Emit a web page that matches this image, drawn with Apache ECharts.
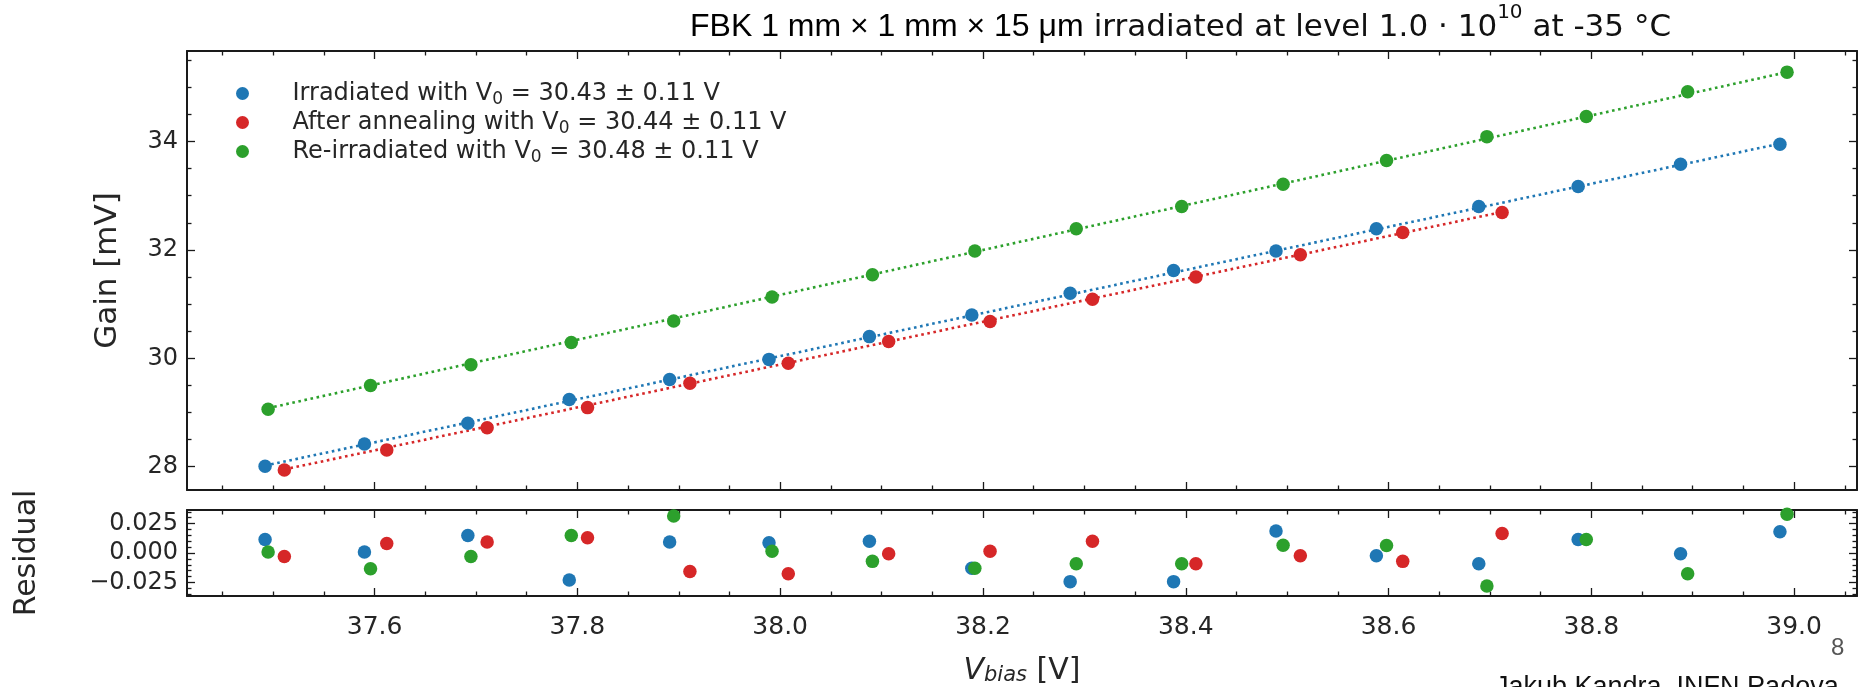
<!DOCTYPE html>
<html><head><meta charset="utf-8">
<script src="https://cdn.jsdelivr.net/npm/echarts@6/dist/echarts.min.js"></script>
<style>html,body{margin:0;padding:0;background:#fff}#c{width:1868px;height:687px}</style>
</head><body><div id="c"></div>
<script>
// ---- data ----
const seriesNames = [
  'Irradiated with V0 = 30.43 \u00b1 0.11 V',
  'After annealing with V0 = 30.44 \u00b1 0.11 V',
  'Re-irradiated with V0 = 30.48 \u00b1 0.11 V'
];
const irradV = [37.492,37.590,37.692,37.792,37.891,37.989,38.088,38.189,38.286,38.388,38.489,38.588,38.689,38.787,38.888,38.986];
const irradGain = [28.01,28.42,28.80,29.24,29.61,29.98,30.40,30.80,31.20,31.62,31.98,32.39,32.80,33.17,33.58,33.95];
const irradRes = [0.0114,0.0009,0.0149,-0.0229,0.0094,0.0086,0.0100,-0.0129,-0.0243,-0.0243,0.0186,-0.0023,-0.0091,0.0114,-0.0006,0.0180];

const annealV = [37.511,37.612,37.711,37.810,37.911,38.008,38.107,38.207,38.308,38.410,38.513,38.614,38.712];
const annealGain = [27.94,28.31,28.72,29.09,29.54,29.91,30.31,30.68,31.09,31.50,31.91,32.32,32.69];
const annealRes = [-0.0029,0.0080,0.0094,0.0129,-0.0157,-0.0177,-0.0006,0.0014,0.0100,-0.0091,-0.0023,-0.0071,0.0166];

const reirrV = [37.495,37.596,37.695,37.794,37.895,37.992,38.091,38.192,38.292,38.396,38.496,38.598,38.697,38.795,38.895,38.993];
const reirrGain = [29.06,29.50,29.88,30.29,30.69,31.13,31.54,31.98,32.39,32.80,33.21,33.65,34.09,34.46,34.92,35.28];
const reirrRes = [0.0009,-0.0134,-0.0029,0.0149,0.0314,0.0014,-0.0071,-0.0129,-0.0091,-0.0091,0.0066,0.0063,-0.0280,0.0114,-0.0177,0.0329];

// fitted lines (end points)
const irradFitV = [37.492, 38.986];
const irradFitGain = [28.02, 33.96];
const annealFitV = [37.511, 38.712];
const annealFitGain = [27.95, 32.70];
const reirrFitV = [37.495, 38.993];
const reirrFitGain = [29.08, 35.28];

// ticks
const xMajorTicks = [37.6,37.8,38.0,38.2,38.4,38.6,38.8,39.0];
const xMinorTicks = [37.45,37.5,37.55,37.65,37.7,37.75,37.85,37.9,37.95,38.05,38.1,38.15,38.25,38.3,38.35,38.45,38.5,38.55,38.65,38.7,38.75,38.85,38.9,38.95,39.05];
const gainMajorTicks = [28,30,32,34];
const gainMinorTicks = [28.5,29,29.5,30.5,31,31.5,32.5,33,33.5,34.5,35,35.5];
const resMajorTicks = [-0.025,0,0.025];
const resMinorTicks = [-0.035,-0.03,-0.02,-0.015,-0.01,-0.005,0.005,0.01,0.015,0.02,0.03,0.035];

// ---- chart ----
const colors = ['#1f77b4','#d62728','#2ca02c'];
const zip = (a,b) => a.map((v,i) => [v,b[i]]);
const X_MIN = 37.415, X_MAX = 39.062;
const G_MIN = 27.57, G_MAX = 35.67;
const R_MIN = -0.0365, R_MAX = 0.0365;
const AX = '#1a1a1a';
const TXT = '#262626';
const FONT = 'DejaVu Sans';

function axis(kind, o) {
  const a = {
    type: 'value', gridIndex: o.grid, position: o.pos, min: o.min, max: o.max,
    axisLine: {show: !!o.line, onZero: false, lineStyle: {color: AX, width: 2}},
    axisTick: {show: true, inside: true, length: o.len, customValues: o.ticks, lineStyle: {color: AX, width: 1.3}},
    axisLabel: {show: false},
    splitLine: {show: false},
    minorTick: {show: false}
  };
  if (o.labels) {
    a.axisLabel = Object.assign({show: true, customValues: o.ticks, color: TXT, fontFamily: FONT, fontSize: 24}, o.labels);
  }
  if (o.name) Object.assign(a, o.name);
  return a;
}

const xAxes = [];
const yAxes = [];
[0,1].forEach(g => {
  xAxes.push(axis('x', {grid: g, pos: 'bottom', min: X_MIN, max: X_MAX, line: true, len: 8, ticks: xMajorTicks,
    labels: g === 1 ? {margin: 19, fontSize: 25, formatter: v => v.toFixed(1)} : null,
    name: g === 1 ? {
      name: '{i|V}{s|bias}{n| [V]}', nameLocation: 'middle', nameGap: 58,
      nameTextStyle: {rich: {
        i: {fontFamily: FONT, fontStyle: 'italic', fontSize: 30, color: TXT, verticalAlign: 'bottom', lineHeight: 32},
        s: {fontFamily: FONT, fontStyle: 'italic', fontSize: 21, color: TXT, verticalAlign: 'bottom', lineHeight: 20},
        n: {fontFamily: FONT, fontSize: 30, color: TXT, verticalAlign: 'bottom', lineHeight: 32}
      }}
    } : null}));
  xAxes.push(axis('x', {grid: g, pos: 'bottom', min: X_MIN, max: X_MAX, len: 4.5, ticks: xMinorTicks}));
  xAxes.push(axis('x', {grid: g, pos: 'top', min: X_MIN, max: X_MAX, line: true, len: 8, ticks: xMajorTicks}));
  xAxes.push(axis('x', {grid: g, pos: 'top', min: X_MIN, max: X_MAX, len: 4.5, ticks: xMinorTicks}));
  const mn = g === 0 ? G_MIN : R_MIN, mx = g === 0 ? G_MAX : R_MAX;
  const maj = g === 0 ? gainMajorTicks : resMajorTicks;
  const mnr = g === 0 ? gainMinorTicks : resMinorTicks;
  yAxes.push(axis('y', {grid: g, pos: 'left', min: mn, max: mx, line: true, len: 8, ticks: maj,
    labels: g === 0 ? {margin: 9, formatter: v => String(v)}
                    : {margin: 9, formatter: v => (v < 0 ? '\u2212' : '') + Math.abs(v).toFixed(3)},
    name: g === 0 ? {name: 'Gain [mV]', nameLocation: 'middle', nameGap: 64,
                     nameTextStyle: {fontFamily: FONT, fontSize: 31, color: TXT}}
                  : {name: 'Residual', nameLocation: 'middle', nameGap: 145,
                     nameTextStyle: {fontFamily: FONT, fontSize: 30, color: TXT}}}));
  yAxes.push(axis('y', {grid: g, pos: 'left', min: mn, max: mx, len: 4.5, ticks: mnr}));
  yAxes.push(axis('y', {grid: g, pos: 'right', min: mn, max: mx, line: true, len: 8, ticks: maj}));
  yAxes.push(axis('y', {grid: g, pos: 'right', min: mn, max: mx, len: 4.5, ticks: mnr}));
});

const mainV = [irradV, annealV, reirrV];
const mainG = [irradGain, annealGain, reirrGain];
const mainR = [irradRes, annealRes, reirrRes];
const fitV = [irradFitV, annealFitV, reirrFitV];
const fitG = [irradFitGain, annealFitGain, reirrFitGain];

const series = [];
[0,1,2].forEach(i => {
  series.push({type: 'line', name: 'fit' + i, xAxisIndex: 0, yAxisIndex: 0, data: zip(fitV[i], fitG[i]),
    showSymbol: false, symbol: 'none', silent: true, z: 1,
    lineStyle: {color: colors[i], width: 2.6, type: [2.6, 3.6]}});
});
[0,1,2].forEach(i => {
  series.push({type: 'scatter', name: seriesNames[i], xAxisIndex: 0, yAxisIndex: 0, data: zip(mainV[i], mainG[i]),
    symbol: 'circle', symbolSize: 13.5, itemStyle: {color: colors[i], opacity: 1}, z: 3 + i});
});
[0,1,2].forEach(i => {
  series.push({type: 'scatter', name: seriesNames[i], xAxisIndex: 4, yAxisIndex: 4, data: zip(mainV[i], mainR[i]),
    symbol: 'circle', symbolSize: 13.5, itemStyle: {color: colors[i], opacity: 1}, z: 3 + i});
});

const option = {
  animation: false,
  backgroundColor: '#ffffff',
  color: colors,
  title: {
    left: 690, top: 3, padding: 0,
    text: '{a|FBK 1 mm \u00d7 1 mm \u00d7 15 \u03bcm}  {b|irradiated at level 1.0 \u00b7 10}{s|10}{b| at -35 \u00b0C}',
    textStyle: {fontWeight: 'normal', rich: {
      a: {fontFamily: 'Liberation Sans', fontSize: 32, fontWeight: 'normal', color: '#000', verticalAlign: 'bottom', lineHeight: 40},
      b: {fontFamily: FONT, fontSize: 31, fontWeight: 'normal', color: '#111', verticalAlign: 'bottom', lineHeight: 39},
      s: {fontFamily: FONT, fontSize: 20, fontWeight: 'normal', color: '#111', verticalAlign: 'top', lineHeight: 24}
    }}
  },
  legend: {
    orient: 'vertical', left: 231, top: 74, itemWidth: 90, itemHeight: 13, itemGap: 0,
    data: seriesNames, selectedMode: false,
    formatter: name => '{n|' + name.replace('V0', 'V}{sub|0}{n|') + '}',
    textStyle: {fontFamily: FONT, fontSize: 24, color: TXT, lineHeight: 29, rich: {
      n: {fontFamily: FONT, fontSize: 24, color: TXT, lineHeight: 29, verticalAlign: 'middle'},
      sub: {fontFamily: FONT, fontSize: 17, color: TXT, lineHeight: 19, verticalAlign: 'bottom'}
    }}
  },
  grid: [
    {left: 187, right: 11, top: 51, height: 439},
    {left: 187, right: 11, top: 510, height: 87}
  ],
  xAxis: xAxes,
  yAxis: yAxes,
  series: series,
  graphic: [
    {type: 'text', left: 1831, top: 636, style: {text: '8', fontFamily: 'Liberation Sans', fontSize: 24, fill: '#555'}},
    {type: 'text', left: 1495, top: 674, style: {text: 'Jakub Kandra, INFN Padova', fontFamily: 'Liberation Sans', fontSize: 27, fill: '#111'}}
  ]
};
const chart = echarts.init(document.getElementById('c'));
chart.setOption(option);
</script>
</body></html>
